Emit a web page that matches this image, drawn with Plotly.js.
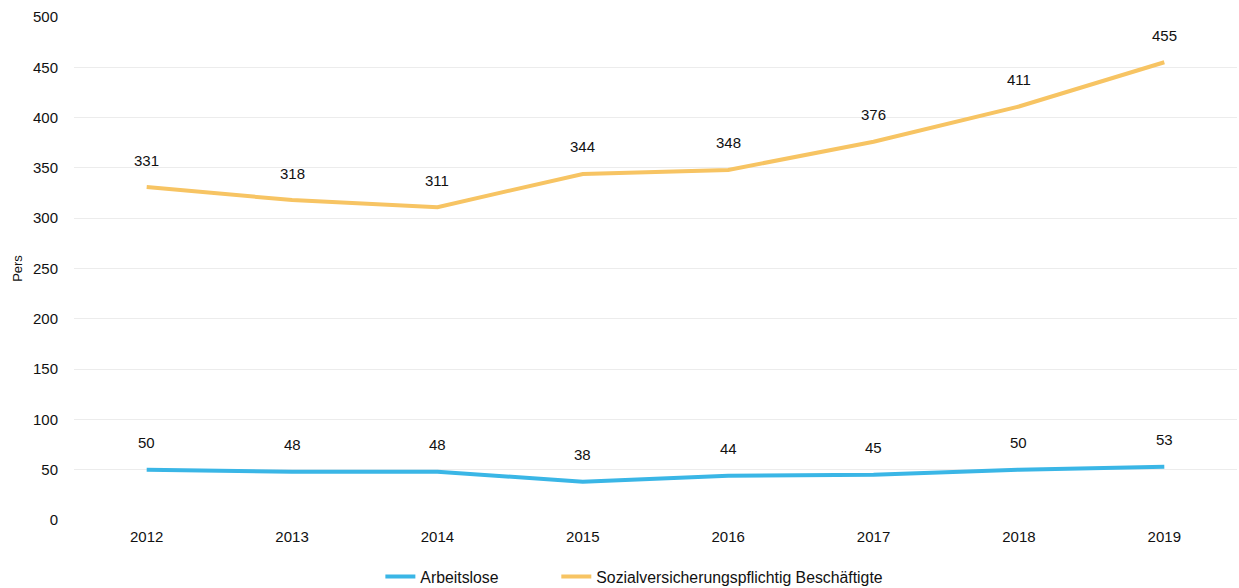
<!DOCTYPE html>
<html>
<head>
<meta charset="utf-8">
<script src="https://cdn.plot.ly/plotly-3.0.1.min.js"></script>
<style>html,body{margin:0;padding:0;background:#fff;}#chart{width:1239px;height:588px;}</style>
</head>
<body>
<div id="chart"></div>
<script>
const years = ['2012','2013','2014','2015','2016','2017','2018','2019'];
const arbeitslose = [50, 48, 48, 38, 44, 45, 50, 53];
const beschaeftigte = [331, 318, 311, 344, 348, 376, 411, 455];
const seriesNames = ['Arbeitslose', 'Sozialversicherungspflichtig Beschäftigte'];
const yTicks = [0, 50, 100, 150, 200, 250, 300, 350, 400, 450, 500];

const fam = 'Liberation Sans, Arial, sans-serif';
const font = {family: fam, size: 15, color: '#111'};

const traces = [
  {x: years, y: arbeitslose, name: seriesNames[0], type: 'scatter', mode: 'lines',
   line: {color: '#3AB6E6', width: 4}, legend: 'legend'},
  {x: years, y: beschaeftigte, name: seriesNames[1], type: 'scatter', mode: 'lines',
   line: {color: '#F7C463', width: 4}, legend: 'legend2'}
];

const annotations = [];
[arbeitslose, beschaeftigte].forEach(arr => {
  arr.forEach((v, i) => {
    annotations.push({x: i, y: v, xref: 'x', yref: 'y', text: String(v), showarrow: false,
      yshift: 27, font: {family: fam, size: 15, color: '#111'}});
  });
});

const legendBase = {orientation: 'h', xanchor: 'left', xref: 'container',
  y: 0.019, yanchor: 'middle', yref: 'container',
  font: {family: fam, size: 15.8, color: '#111'}};

const layout = {
  width: 1239, height: 588,
  margin: {l: 74, r: 2, t: 17, b: 68},
  paper_bgcolor: '#fff', plot_bgcolor: '#fff',
  font: font,
  showlegend: true,
  legend: Object.assign({}, legendBase, {x: 0.307}),
  legend2: Object.assign({}, legendBase, {x: 0.449}),
  xaxis: {type: 'category', range: [-0.5, 7.5], showgrid: false, zeroline: false,
    showline: false, ticks: '', tickfont: font, ticklabelstandoff: 6, automargin: false},
  yaxis: {range: [0, 500], tickvals: yTicks, showgrid: true, gridcolor: '#ececec',
    gridwidth: 1, zeroline: false, showline: false, ticks: '', tickfont: font,
    ticklabelstandoff: 15, automargin: false,
    title: {text: 'Pers', font: {family: fam, size: 13, color: '#111'}, standoff: 7}},
  annotations: annotations
};

Plotly.newPlot('chart', traces, layout, {displayModeBar: false, staticPlot: true});
</script>
</body>
</html>
